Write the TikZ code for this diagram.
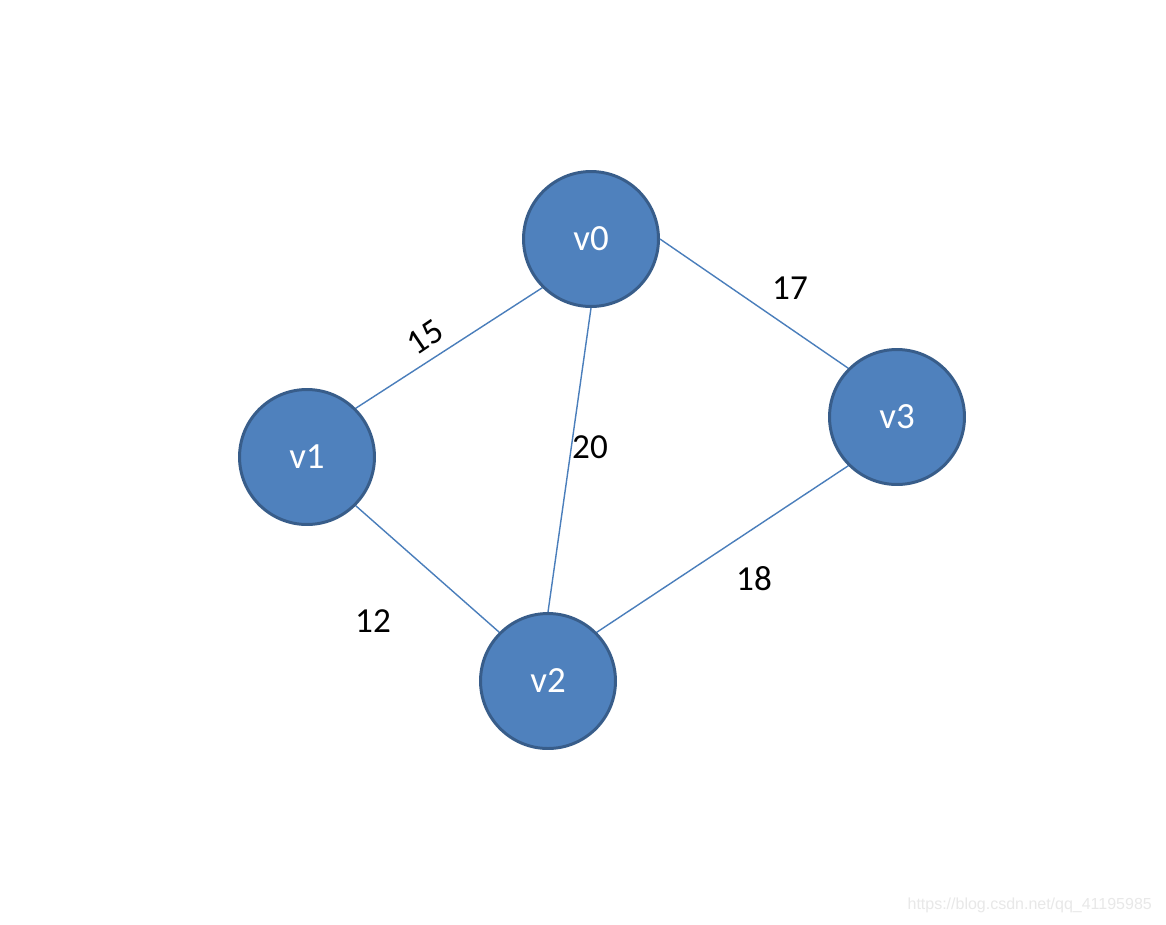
\documentclass[tikz,border=0pt]{standalone}
\usepackage{fontspec}
\setmainfont{Carlito}
\newfontfamily\wmfont{Liberation Sans}
\definecolor{nodefill}{HTML}{4F81BD}
\definecolor{nodeedge}{HTML}{385D8A}
\definecolor{edgecol}{HTML}{4A7EBB}
\definecolor{wmcol}{HTML}{E8E8E8}
\begin{document}
\begin{tikzpicture}[x=0.02cm,y=-0.02cm,
  vertex/.style={circle,fill=nodefill,draw=nodeedge,line width=1.7pt,minimum size=2.7cm,inner sep=0pt,text=white,font=\fontsize{21}{25}\selectfont},
  edge/.style={draw=edgecol,line width=0.8pt},
  wlabel/.style={font=\fontsize{20}{24}\selectfont,text=black}]
\useasboundingbox (0,0) rectangle (1166,924);
\fill[white] (0,0) rectangle (1166,924);
\node[vertex] (v0) at (591,239) {v0};
\node[vertex] (v1) at (307,457) {v1};
\node[vertex] (v2) at (548,681) {v2};
\node[vertex] (v3) at (897,417) {v3};
\draw[edge] (v0.225) -- (v1.45);
\draw[edge] (v0.south) -- (v2.north);
\draw[edge] (v0.east) -- (v3.135);
\draw[edge] (v1.-45) -- (v2.135);
\draw[edge] (v2.45) -- (v3.225);
\node[wlabel,rotate=34] (l15) at (425,337) {15};
\node[wlabel] (l17) at (790,288) {17};
\node[wlabel] (l20) at (590,447) {20};
\node[wlabel] (l12) at (373,621) {12};
\node[wlabel] (l18) at (754,579) {18};
\node[font=\wmfont\fontsize{9.1}{11}\selectfont,text=wmcol,anchor=east] (wm) at (1158,905) {https://blog.csdn.net/qq\_41195985};
\end{tikzpicture}
\end{document}
